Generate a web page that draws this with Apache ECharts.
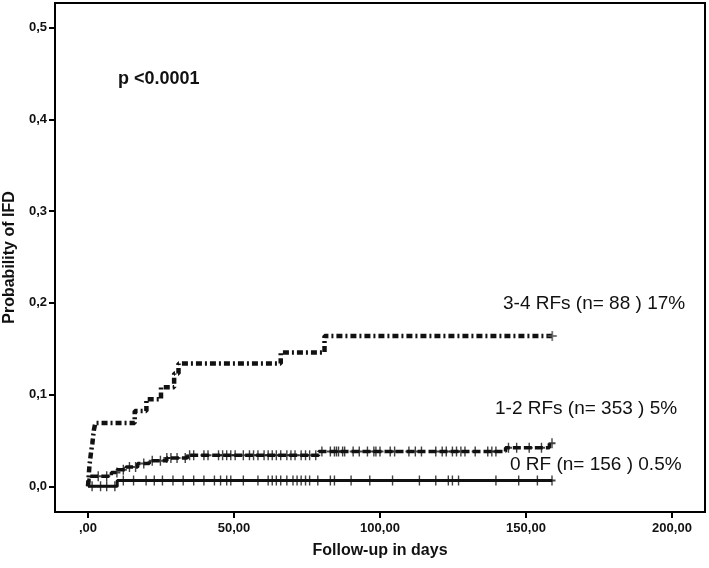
<!DOCTYPE html>
<html>
<head>
<meta charset="utf-8">
<script src="https://cdn.jsdelivr.net/npm/echarts@6/dist/echarts.min.js"></script>
<style>html,body{margin:0;padding:0;background:#fff}#c{width:709px;height:568px}</style>
</head>
<body>
<div id="c"></div>
<script>
// ---- data ----
const xTicks = [0, 50, 100, 150, 200];
const xTickLabels = [',00', '50,00', '100,00', '150,00', '200,00'];
const yTicks = [0, 0.1, 0.2, 0.3, 0.4, 0.5];
const yTickLabels = ['0,0', '0,1', '0,2', '0,3', '0,4', '0,5'];

// 3-4 RFs step curve
const days34 = [0, 0.5, 1, 1.5, 2, 2.5, 16, 20, 25, 29.5, 31, 66, 81, 159];
const prob34 = [0, 0.023, 0.036, 0.047, 0.061, 0.069, 0.082, 0.095, 0.108, 0.123, 0.134, 0.146, 0.164, 0.164];
const cens34 = [159];

// 1-2 RFs step curve
const days12 = [0, 0.5, 8, 10, 13, 17, 21, 27, 34, 79, 143, 158, 159];
const prob12 = [0, 0.011, 0.015, 0.018, 0.021, 0.025, 0.028, 0.031, 0.034, 0.038, 0.042, 0.047, 0.047];
const cens12 = [3.5, 6.4, 9.9, 12.1, 14.2, 16.3, 19.1, 22.0, 24.8, 27.0, 28.4, 30.5, 33.3, 34.8, 36.2, 39.7, 41.1, 44.7, 46.1, 47.5, 48.9, 50.4, 53.2, 55.3, 56.7, 58.2, 60.3, 61.7, 63.1, 64.5, 66.0, 68.1, 69.5, 70.9, 73.0, 74.5, 75.9, 78.0, 80.1, 83.0, 84.4, 85.1, 85.8, 87.2, 87.9, 90.8, 92.9, 95.7, 97.9, 98.6, 100, 103.5, 105, 109.9, 112.1, 114.2, 119.1, 121.3, 122.7, 124.8, 126.2, 127.7, 129.1, 132.6, 136.9, 138.3, 139.7, 144, 146.8, 151.1, 155.3, 158.9];

// 0 RF step curve
const days0 = [0, 10, 159];
const prob0 = [0, 0.0064, 0.0064];
const cens0 = [1.4, 4.3, 6.4, 9.2, 12.1, 15.6, 19.9, 22.7, 25.5, 29.1, 32.6, 36.2, 39.7, 43.3, 45.4, 47.5, 48.9, 53.2, 58.2, 61.7, 63.1, 64.5, 66.0, 68.1, 70.2, 71.6, 73.0, 74.5, 75.9, 78.7, 83.0, 84.4, 90.1, 96.5, 104.3, 113.5, 119.1, 123.4, 124.8, 126.9, 139.7, 147.5, 153.9, 158.9];

const labels = ['3-4 RFs (n= 88 ) 17%', '1-2 RFs (n= 353 ) 5%', '0 RF (n= 156 ) 0.5%'];
const pText = 'p <0.0001';

// ---- build ----
function pairs(xs, ys) { return xs.map((x, i) => [x, ys[i]]); }
function stepAt(xs, ys, t) {
  let v = ys[0];
  for (let i = 0; i < xs.length; i++) { if (xs[i] <= t) v = ys[i]; }
  return v;
}
function censPts(c, xs, ys) { return c.map(t => [t, stepAt(xs, ys, t)]); }

const plus = 'path://M4,0 H6 V4 H10 V6 H6 V10 H4 V6 H0 V4 H4 Z';
const ink = '#111';

const chart = echarts.init(document.getElementById('c'), null, {renderer: 'canvas'});
const font = 'Liberation Sans, Arial, sans-serif';
chart.setOption({
  animation: false,
  backgroundColor: '#fff',
  grid: {left: 55, right: 4, top: 3, bottom: 56, show: true, borderColor: '#000', borderWidth: 2, outerBoundsMode: 'none', containLabel: false},
  xAxis: {
    type: 'value', min: -11.3, max: 211.3,
    name: 'Follow-up in days', nameLocation: 'middle', nameGap: 31,
    nameTextStyle: {fontFamily: font, fontWeight: 'bold', fontSize: 16, color: '#111'},
    axisLine: {show: true, onZero: false, lineStyle: {color: '#000', width: 2}},
    axisTick: {show: true, length: 6, lineStyle: {color: '#000', width: 2}, customValues: xTicks},
    axisLabel: {customValues: xTicks, formatter: v => xTickLabels[xTicks.indexOf(v)], fontFamily: font, fontWeight: 'bold', fontSize: 13, color: '#111', margin: 10},
    splitLine: {show: false}
  },
  yAxis: {
    type: 'value', min: -0.028, max: 0.527,
    name: 'Probability of IFD', nameLocation: 'middle', nameGap: 37,
    nameTextStyle: {fontFamily: font, fontWeight: 'bold', fontSize: 16, color: '#111'},
    axisLine: {show: true, onZero: false, lineStyle: {color: '#000', width: 2}},
    axisTick: {show: true, length: 6, lineStyle: {color: '#000', width: 2}, customValues: yTicks},
    axisLabel: {customValues: yTicks, formatter: v => yTickLabels[yTicks.findIndex(t => Math.abs(t - v) < 1e-9)], fontFamily: font, fontWeight: 'bold', fontSize: 13, color: '#111', margin: 8},
    splitLine: {show: false}
  },
  series: [
    {type: 'line', step: 'end', data: pairs(days0, prob0), symbol: 'none', lineStyle: {color: ink, width: 3}, z: 3},
    {type: 'line', step: 'end', data: pairs(days12, prob12), symbol: 'none', lineStyle: {color: ink, width: 3.5, type: [8, 3]}, z: 3},
    {type: 'line', step: 'end', data: pairs(days34, prob34), symbol: 'none', lineStyle: {color: ink, width: 4.5, type: [6, 3, 2, 3]}, z: 3},
    {type: 'scatter', data: censPts(cens0, days0, prob0), symbol: plus, symbolSize: [7, 10], itemStyle: {color: ink}, z: 4},
    {type: 'scatter', data: censPts(cens12, days12, prob12), symbol: plus, symbolSize: [7, 10], itemStyle: {color: ink}, z: 4},
    {type: 'scatter', data: censPts(cens34, days34, prob34), symbol: plus, symbolSize: [9, 10], itemStyle: {color: '#555'}, z: 4}
  ],
  graphic: [
    {type: 'text', left: 118, top: 70, style: {text: pText, font: 'bold 18px ' + font, fill: '#111'}},
    {type: 'text', left: 503, top: 294, style: {text: labels[0], font: '19px ' + font, fill: '#111'}},
    {type: 'text', left: 495, top: 399, style: {text: labels[1], font: '19px ' + font, fill: '#111'}},
    {type: 'text', left: 510, top: 455, style: {text: labels[2], font: '19px ' + font, fill: '#111'}}
  ]
});
</script>
</body>
</html>
